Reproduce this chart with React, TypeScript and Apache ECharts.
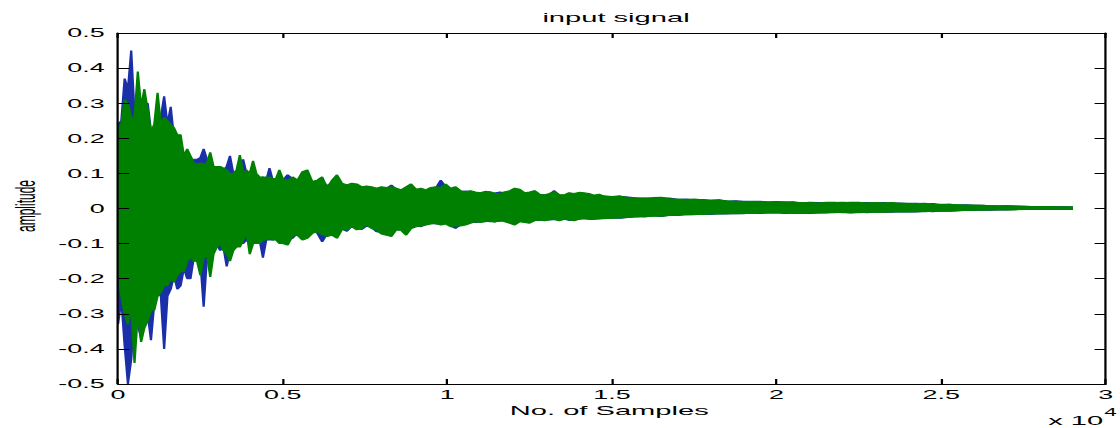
import React, { useEffect, useRef } from "react";
import * as echarts from "echarts";

// ---- data (sample index on x, amplitude on y) ----
// early readings: samples 0 .. 4900, every 100 samples
const EARLY_START = 0;
const EARLY_STEP = 100;
// mid readings: samples 5000 .. 14750, every 150 samples
const MID_START = 5000;
const MID_STEP = 150;
// late readings: samples 15000 .. 29000, every 250 samples
const LATE_START = 15000;
const LATE_STEP = 250;

const xTicks = ["0", "0.5", "1", "1.5", "2", "2.5", "3"];

const greenEarlyTop = [
  0.23, 0.24, 0.31, 0.30, 0.26, 0.26, 0.39, 0.29, 0.34, 0.28,
  0.22, 0.24, 0.33, 0.24, 0.26, 0.25, 0.24, 0.23, 0.21, 0.21,
  0.15, 0.17, 0.15, 0.13, 0.127, 0.13, 0.127, 0.13, 0.16, 0.12,
  0.12, 0.12, 0.115, 0.11, 0.10, 0.10, 0.11, 0.152, 0.10, 0.11,
  0.10, 0.136, 0.10, 0.09, 0.09, 0.09, 0.09, 0.085, 0.086, 0.11,
];
const blueEarlyTop = [
  0.24, 0.25, 0.37, 0.34, 0.45, 0.27, 0.25, 0.30, 0.30, 0.30,
  0.22, 0.20, 0.21, 0.26, 0.32, 0.24, 0.29, 0.20, 0.20, 0.19,
  0.14, 0.15, 0.14, 0.14, 0.14, 0.145, 0.17, 0.14, 0.12, 0.11,
  0.11, 0.10, 0.11, 0.12, 0.15, 0.10, 0.10, 0.12, 0.14, 0.10,
  0.09, 0.10, 0.09, 0.085, 0.09, 0.08, 0.115, 0.08, 0.08, 0.08,
];
const greenEarlyBottom = [
  -0.18, -0.25, -0.30, -0.33, -0.28, -0.44, -0.30, -0.38, -0.34, -0.32,
  -0.29, -0.29, -0.25, -0.24, -0.22, -0.22, -0.20, -0.21, -0.19, -0.18,
  -0.18, -0.15, -0.14, -0.15, -0.15, -0.19, -0.14, -0.13, -0.195, -0.13,
  -0.11, -0.10, -0.12, -0.13, -0.15, -0.12, -0.11, -0.11, -0.09, -0.065,
  -0.13, -0.10, -0.10, -0.10, -0.09, -0.09, -0.085, -0.09, -0.09, -0.10,
];
const blueEarlyBottom = [
  -0.33, -0.26, -0.39, -0.50, -0.43, -0.30, -0.33, -0.37, -0.31, -0.30,
  -0.375, -0.27, -0.24, -0.25, -0.40, -0.25, -0.23, -0.19, -0.23, -0.22,
  -0.17, -0.20, -0.20, -0.14, -0.13, -0.15, -0.28, -0.14, -0.13, -0.12,
  -0.10, -0.12, -0.11, -0.165, -0.12, -0.11, -0.10, -0.10, -0.10, -0.09,
  -0.10, -0.09, -0.095, -0.09, -0.14, -0.09, -0.09, -0.09, -0.085, -0.09,
];

const greenMidTop = [
  0.086, 0.08, 0.09, 0.081, 0.105, 0.11, 0.077, 0.081, 0.09, 0.058,
  0.081, 0.096, 0.072, 0.067, 0.072, 0.07, 0.062, 0.064, 0.062, 0.058,
  0.062, 0.06, 0.062, 0.058, 0.053, 0.062, 0.07, 0.055, 0.058, 0.053,
  0.06, 0.062, 0.06, 0.07, 0.058, 0.062, 0.051, 0.048, 0.051, 0.047,
  0.045, 0.049, 0.048, 0.043, 0.043, 0.048, 0.051, 0.058, 0.055, 0.045,
  0.047, 0.051, 0.041, 0.039, 0.043, 0.048, 0.04, 0.039, 0.045, 0.043,
  0.046, 0.045, 0.043, 0.038, 0.041, 0.036,
];
const blueMidTop = [
  0.08, 0.096, 0.085, 0.075, 0.09, 0.095, 0.07, 0.078, 0.08, 0.065,
  0.075, 0.08, 0.068, 0.062, 0.066, 0.065, 0.06, 0.06, 0.058, 0.055,
  0.058, 0.056, 0.067, 0.055, 0.05, 0.058, 0.06, 0.05, 0.055, 0.05,
  0.057, 0.058, 0.081, 0.062, 0.055, 0.058, 0.048, 0.05, 0.048, 0.045,
  0.043, 0.045, 0.046, 0.044, 0.047, 0.044, 0.048, 0.05, 0.05, 0.043,
  0.044, 0.047, 0.04, 0.038, 0.04, 0.051, 0.038, 0.036, 0.042, 0.04,
  0.043, 0.042, 0.04, 0.036, 0.038, 0.035,
];
const greenMidBottom = [
  -0.10, -0.104, -0.079, -0.076, -0.09, -0.085, -0.071, -0.066, -0.075, -0.08,
  -0.076, -0.085, -0.06, -0.061, -0.052, -0.061, -0.057, -0.047, -0.057, -0.061,
  -0.073, -0.076, -0.08, -0.061, -0.063, -0.076, -0.057, -0.052, -0.05, -0.047,
  -0.044, -0.042, -0.047, -0.044, -0.052, -0.05, -0.05, -0.047, -0.042, -0.038,
  -0.04, -0.038, -0.036, -0.039, -0.033, -0.038, -0.042, -0.047, -0.038, -0.04,
  -0.042, -0.035, -0.033, -0.035, -0.033, -0.031, -0.035, -0.031, -0.033, -0.035,
  -0.031, -0.028, -0.031, -0.031, -0.03, -0.029,
];
const blueMidBottom = [
  -0.095, -0.09, -0.085, -0.07, -0.08, -0.078, -0.065, -0.07, -0.095, -0.072,
  -0.07, -0.075, -0.058, -0.065, -0.05, -0.055, -0.06, -0.05, -0.054, -0.066,
  -0.068, -0.07, -0.072, -0.058, -0.06, -0.07, -0.055, -0.05, -0.052, -0.045,
  -0.042, -0.044, -0.045, -0.042, -0.05, -0.057, -0.046, -0.044, -0.04, -0.04,
  -0.038, -0.036, -0.038, -0.037, -0.036, -0.035, -0.04, -0.044, -0.036, -0.038,
  -0.038, -0.034, -0.034, -0.033, -0.032, -0.032, -0.033, -0.03, -0.034, -0.032,
  -0.03, -0.029, -0.03, -0.03, -0.029, -0.028,
];

const greenLateTop = [
  0.034, 0.036, 0.031, 0.03, 0.029, 0.031, 0.032, 0.028, 0.027, 0.026,
  0.027, 0.025, 0.024, 0.024, 0.022, 0.021, 0.02, 0.021, 0.02, 0.019,
  0.019, 0.019, 0.018, 0.017, 0.017, 0.016, 0.018, 0.017, 0.018, 0.017,
  0.018, 0.016, 0.017, 0.016, 0.017, 0.015, 0.015, 0.014, 0.015, 0.013,
  0.012, 0.012, 0.011, 0.01, 0.01, 0.009, 0.008, 0.008, 0.008, 0.007,
  0.007, 0.006, 0.006, 0.006, 0.005, 0.005, 0.005,
];
const blueLateTop = [
  0.032, 0.034, 0.033, 0.03, 0.03, 0.029, 0.03, 0.03, 0.026, 0.027,
  0.025, 0.026, 0.023, 0.025, 0.021, 0.022, 0.021, 0.02, 0.021, 0.018,
  0.02, 0.018, 0.019, 0.016, 0.018, 0.017, 0.017, 0.018, 0.016, 0.018,
  0.017, 0.017, 0.016, 0.017, 0.015, 0.016, 0.014, 0.015, 0.013, 0.014,
  0.011, 0.012, 0.01, 0.011, 0.009, 0.009, 0.008, 0.007, 0.008, 0.007,
  0.006, 0.006, 0.005, 0.006, 0.005, 0.005, 0.004,
];
const greenLateBottom = [
  -0.028, -0.027, -0.025, -0.024, -0.023, -0.022, -0.022, -0.02, -0.019, -0.018,
  -0.017, -0.017, -0.016, -0.016, -0.015, -0.015, -0.014, -0.014, -0.013, -0.012,
  -0.013, -0.013, -0.014, -0.014, -0.013, -0.012, -0.013, -0.011, -0.012, -0.012,
  -0.012, -0.011, -0.011, -0.011, -0.01, -0.01, -0.01, -0.009, -0.009, -0.008,
  -0.008, -0.007, -0.006, -0.006, -0.005, -0.005, -0.004, -0.004, -0.004, -0.004,
  -0.003, -0.003, -0.003, -0.003, -0.003, -0.003, -0.003,
];
const blueLateBottom = [
  -0.027, -0.028, -0.026, -0.023, -0.024, -0.021, -0.023, -0.019, -0.02, -0.017,
  -0.018, -0.016, -0.017, -0.015, -0.016, -0.014, -0.015, -0.013, -0.014, -0.013,
  -0.012, -0.014, -0.013, -0.013, -0.014, -0.013, -0.012, -0.012, -0.011, -0.013,
  -0.011, -0.012, -0.01, -0.011, -0.011, -0.009, -0.01, -0.01, -0.008, -0.009,
  -0.007, -0.008, -0.007, -0.005, -0.006, -0.004, -0.005, -0.004, -0.004, -0.003,
  -0.003, -0.003, -0.003, -0.003, -0.002, -0.003, -0.002,
];

const seg = (vals: number[], start: number, step: number) =>
  vals.map((v, i) => [start + i * step, v]);
const toPoints = (early: number[], mid: number[], late: number[]) => [
  ...seg(early, EARLY_START, EARLY_STEP),
  ...seg(mid, MID_START, MID_STEP),
  ...seg(late, LATE_START, LATE_STEP),
];

const GREEN = "#008000";
const BLUE = "#1a2fa8";
const FONT = "'Liberation Sans', Arial, sans-serif";
const SCALE_X = 2.24;
const W = 500;
const H = 428;

export default function App() {
  const ref = useRef<HTMLDivElement>(null);
  useEffect(() => {
    if (!ref.current) return;
    const chart = echarts.init(ref.current, null, { renderer: "svg" });

    const axisCommon = {
      type: "value",
      z: 5,
      axisLine: { show: true, onZero: false, lineStyle: { color: "#000", width: 1 } },
      axisTick: { show: true, inside: true, length: 5, lineStyle: { color: "#000", width: 1 } },
      splitLine: { show: false },
    };
    const xCommon = { ...axisCommon, min: 0, max: 30000, interval: 5000 };
    const yCommon = { ...axisCommon, min: -0.5, max: 0.5, interval: 0.1 };

    const series = (name: string, data: number[][], color: string, z: number, origin: any) => ({
      type: "line",
      name,
      data,
      z,
      silent: true,
      symbol: "none",
      showSymbol: false,
      lineStyle: { color, width: 1 },
      itemStyle: { color },
      areaStyle: { color, opacity: 1, origin },
    });

    chart.setOption({
      animation: false,
      backgroundColor: "#ffffff",
      grid: { left: 52.7, right: 2.7, top: 33, bottom: 44 },
      xAxis: [
        {
          ...xCommon,
          position: "bottom",
          axisLabel: {
            show: true,
            margin: 5,
            color: "#000",
            fontFamily: FONT,
            fontSize: 12,
            formatter: (v: number) => xTicks[Math.round(v / 5000)],
          },
        },
        { ...xCommon, position: "top", axisLabel: { show: false } },
      ],
      yAxis: [
        {
          ...yCommon,
          position: "left",
          axisLabel: {
            show: true,
            margin: 6,
            color: "#000",
            fontFamily: FONT,
            fontSize: 12,
            formatter: (v: number) => (Math.abs(v) < 1e-9 ? "0" : v.toFixed(1)),
          },
        },
        { ...yCommon, position: "right", axisLabel: { show: false } },
      ],
      series: [
        series("blue+", toPoints(blueEarlyTop, blueMidTop, blueLateTop), BLUE, 2, -0.002),
        series("blue-", toPoints(blueEarlyBottom, blueMidBottom, blueLateBottom), BLUE, 2, 0),
        series("green+", toPoints(greenEarlyTop, greenMidTop, greenLateTop), GREEN, 3, -0.002),
        series("green-", toPoints(greenEarlyBottom, greenMidBottom, greenLateBottom), GREEN, 3, 0),
      ],
      graphic: [
        {
          type: "text",
          x: 275,
          y: 18,
          style: { text: "input signal", font: `13px ${FONT}`, fill: "#000", align: "center", verticalAlign: "middle" },
        },
        {
          type: "text",
          x: 11.5,
          y: 206,
          rotation: Math.PI / 2,
          style: { text: "amplitude", font: `12px ${FONT}`, fill: "#000", align: "center", verticalAlign: "middle" },
        },
        {
          type: "text",
          x: 272,
          y: 411,
          style: { text: "No. of Samples", font: `13px ${FONT}`, fill: "#000", align: "center", verticalAlign: "middle" },
        },
        {
          type: "text",
          x: 492.5,
          y: 421,
          style: { text: "x 10", font: `13px ${FONT}`, fill: "#000", align: "right", verticalAlign: "middle" },
        },
        {
          type: "text",
          x: 493,
          y: 413,
          style: { text: "4", font: `10px ${FONT}`, fill: "#000", align: "left", verticalAlign: "middle" },
        },
      ],
    });
    return () => chart.dispose();
  }, []);

  return (
    <div
      ref={ref}
      style={{
        position: "absolute",
        left: 0,
        top: 0,
        width: W,
        height: H,
        transform: `scaleX(${SCALE_X})`,
        transformOrigin: "0 0",
        background: "#fff",
      }}
    />
  );
}
